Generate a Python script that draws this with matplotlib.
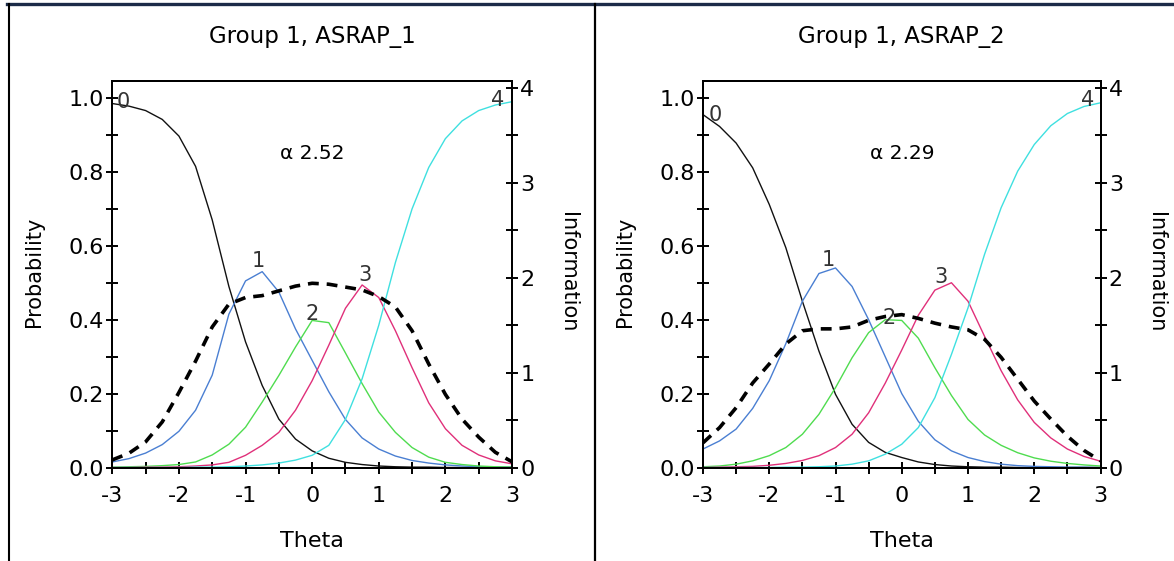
import matplotlib.pyplot as plt
from matplotlib.ticker import MultipleLocator, FixedLocator, FixedFormatter
from matplotlib.lines import Line2D

plt.rcParams['font.family'] = ['DejaVu Sans']
plt.rcParams['axes.unicode_minus'] = False

# theta grid
theta = [-3.0, -2.75, -2.5, -2.25, -2.0, -1.75, -1.5, -1.25, -1.0, -0.75, -0.5, -0.25,
         0.0, 0.25, 0.5, 0.75, 1.0, 1.25, 1.5, 1.75, 2.0, 2.25, 2.5, 2.75, 3.0]

# ASRAP_1 (left panel)
cat0_1 = [0.985, 0.978, 0.966, 0.942, 0.897, 0.815, 0.670, 0.490, 0.340, 0.222, 0.131, 0.077,
          0.045, 0.025, 0.014, 0.008, 0.004, 0.002, 0.001, 0.001, 0.0, 0.0, 0.0, 0.0, 0.0]
cat1_1 = [0.015, 0.024, 0.039, 0.062, 0.098, 0.155, 0.250, 0.415, 0.505, 0.530, 0.475, 0.375,
          0.290, 0.205, 0.130, 0.080, 0.050, 0.031, 0.019, 0.012, 0.007, 0.004, 0.002, 0.001, 0.001]
cat2_1 = [0.001, 0.002, 0.003, 0.005, 0.008, 0.015, 0.034, 0.063, 0.109, 0.177, 0.249, 0.326,
          0.398, 0.392, 0.310, 0.227, 0.150, 0.095, 0.054, 0.028, 0.014, 0.008, 0.004, 0.002, 0.001]
cat3_1 = [0.0, 0.0, 0.001, 0.001, 0.002, 0.004, 0.007, 0.014, 0.033, 0.060, 0.095, 0.155,
          0.235, 0.331, 0.431, 0.494, 0.460, 0.370, 0.270, 0.175, 0.105, 0.060, 0.034, 0.018, 0.010]
cat4_1 = [0.0, 0.0, 0.0, 0.0, 0.0, 0.001, 0.001, 0.002, 0.004, 0.007, 0.012, 0.020,
          0.033, 0.060, 0.130, 0.240, 0.385, 0.555, 0.700, 0.812, 0.890, 0.938, 0.966, 0.981, 0.990]
info_1 = [0.08, 0.15, 0.27, 0.48, 0.79, 1.12, 1.48, 1.72, 1.79, 1.81, 1.86, 1.91,
          1.94, 1.93, 1.90, 1.87, 1.80, 1.69, 1.44, 1.09, 0.77, 0.51, 0.32, 0.16, 0.06]

# ASRAP_2 (right panel)
cat0_2 = [0.955, 0.923, 0.878, 0.811, 0.712, 0.595, 0.450, 0.315, 0.198, 0.117, 0.068, 0.041,
          0.027, 0.015, 0.008, 0.004, 0.002, 0.001, 0.001, 0.0, 0.0, 0.0, 0.0, 0.0, 0.0]
cat1_2 = [0.050, 0.072, 0.104, 0.160, 0.235, 0.335, 0.450, 0.525, 0.540, 0.490, 0.400, 0.300,
          0.200, 0.125, 0.075, 0.045, 0.027, 0.016, 0.009, 0.005, 0.003, 0.002, 0.001, 0.001, 0.0]
cat2_2 = [0.002, 0.004, 0.009, 0.018, 0.032, 0.054, 0.090, 0.144, 0.216, 0.297, 0.365, 0.400,
          0.398, 0.350, 0.270, 0.195, 0.130, 0.088, 0.060, 0.040, 0.026, 0.017, 0.011, 0.007, 0.004]
cat3_2 = [0.0, 0.001, 0.002, 0.003, 0.006, 0.011, 0.019, 0.032, 0.054, 0.090, 0.148, 0.228,
          0.318, 0.412, 0.480, 0.500, 0.450, 0.355, 0.262, 0.183, 0.122, 0.080, 0.050, 0.030, 0.017]
cat4_2 = [0.0, 0.0, 0.0, 0.0, 0.0, 0.001, 0.001, 0.002, 0.004, 0.009, 0.018, 0.036,
          0.063, 0.108, 0.189, 0.306, 0.432, 0.577, 0.703, 0.802, 0.874, 0.925, 0.958, 0.977, 0.987]
info_2 = [0.26, 0.42, 0.63, 0.89, 1.09, 1.30, 1.44, 1.46, 1.46, 1.48, 1.55, 1.59,
          1.61, 1.57, 1.52, 1.48, 1.45, 1.35, 1.16, 0.93, 0.70, 0.51, 0.33, 0.18, 0.07]

titles = ['Group 1, ASRAP_1', 'Group 1, ASRAP_2']
alphas = ['\u03b1 2.52', '\u03b1 2.29']
cat_names = ['0', '1', '2', '3', '4']

x_ticks = [-3, -2, -1, 0, 1, 2, 3]
x_ticklabels = ['-3', '-2', '-1', '0', '1', '2', '3']
p_ticks = [0.0, 0.2, 0.4, 0.6, 0.8, 1.0]
p_ticklabels = ['0.0', '0.2', '0.4', '0.6', '0.8', '1.0']
i_ticks = [0, 1, 2, 3, 4]
i_ticklabels = ['0', '1', '2', '3', '4']

colors = ['#111111', '#4a7fd2', '#4fdc4f', '#e0307a', '#3fe0e0']

panels = [
    dict(cats=[cat0_1, cat1_1, cat2_1, cat3_1, cat4_1], info=info_1,
         lab=[(-2.83, 0.99), (-0.81, 0.56), (0.0, 0.415), (0.79, 0.52), (2.79, 0.995)]),
    dict(cats=[cat0_2, cat1_2, cat2_2, cat3_2, cat4_2], info=info_2,
         lab=[(-2.81, 0.955), (-1.11, 0.562), (-0.19, 0.405), (0.60, 0.516), (2.80, 0.995)]),
]

fig = plt.figure(figsize=(11.74, 5.61), dpi=100)
fig.patch.set_facecolor('white')

lefts = [112.3 / 1174, 703.0 / 1174]
widths = [399.7 / 1174, 397.5 / 1174]
bottom = 93.5 / 561
height = 386.5 / 561

for k in range(2):
    ax = fig.add_axes([lefts[k], bottom, widths[k], height])
    p = panels[k]
    for c in range(5):
        ax.plot(theta, p['cats'][c], color=colors[c], lw=1.0, zorder=2)
        ax.text(p['lab'][c][0], p['lab'][c][1], cat_names[c], fontsize=15,
                color='#333333', ha='center', va='center', zorder=3)

    ax.set_xlim(-3, 3)
    ax.set_ylim(0, 1.046)
    ax.xaxis.set_major_locator(FixedLocator(x_ticks))
    ax.xaxis.set_major_formatter(FixedFormatter(x_ticklabels))
    ax.xaxis.set_minor_locator(MultipleLocator(0.5))
    ax.yaxis.set_major_locator(FixedLocator(p_ticks))
    ax.yaxis.set_major_formatter(FixedFormatter(p_ticklabels))
    ax.yaxis.set_minor_locator(MultipleLocator(0.1))
    ax.tick_params(which='both', direction='inout', length=8, width=1.4, color='black')
    ax.tick_params(axis='x', which='major', labelsize=16, pad=9)
    ax.tick_params(axis='y', which='major', labelsize=16, pad=2)
    for s in ax.spines.values():
        s.set_linewidth(1.4)

    ax.set_title(titles[k], fontsize=16.5, y=1.093, va='center')
    ax.text(0.0, 0.85, alphas[k], fontsize=14.5, ha='center', va='center')
    ax.set_xlabel('Theta', fontsize=16)
    ax.xaxis.set_label_coords(0.5, -0.19)
    ax.xaxis.label.set_va('center')
    ax.set_ylabel('Probability', fontsize=15)
    ax.yaxis.set_label_coords(-0.195, 0.506)
    ax.yaxis.label.set_va('center')

    # information curve on its own right-hand scale
    ax2 = ax.twinx()
    ax2.plot(theta, p['info'], color='black', lw=2.6, ls=(0, (3, 2.2)), zorder=4)
    ax2.set_ylim(0, 4.07)
    ax2.yaxis.set_major_locator(FixedLocator(i_ticks))
    ax2.yaxis.set_major_formatter(FixedFormatter(i_ticklabels))
    ax2.yaxis.set_minor_locator(MultipleLocator(0.5))
    ax2.tick_params(which='both', direction='inout', length=8, width=1.4, color='black')
    ax2.tick_params(axis='y', which='major', labelsize=16, pad=2)
    for s in ax2.spines.values():
        s.set_linewidth(1.4)
    ax2.set_ylabel('Information', fontsize=15, rotation=270)
    ax2.yaxis.set_label_coords(1.14, 0.506)
    ax2.yaxis.label.set_va('center')

# window frame lines
fig.add_artist(Line2D([7 / 1174, 1.0], [1 - 4 / 561, 1 - 4 / 561], color='#1c2b48', lw=2.4))
fig.add_artist(Line2D([9 / 1174, 9 / 1174], [0.0, 1 - 4 / 561], color='black', lw=1.5))
fig.add_artist(Line2D([595 / 1174, 595 / 1174], [0.0, 1 - 4 / 561], color='black', lw=1.6))

fig.savefig('out.png', dpi=100, facecolor='white')
